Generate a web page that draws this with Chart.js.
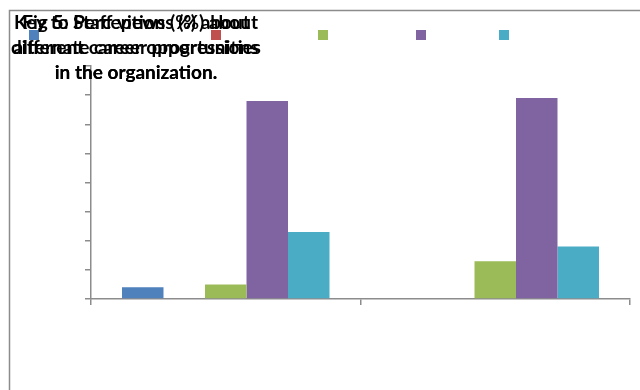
<!DOCTYPE html>
<html>
<head>
<meta charset="utf-8">
<script src="https://cdn.jsdelivr.net/npm/chart.js@4/dist/chart.umd.min.js"></script>
<style>
  html, body { margin: 0; padding: 0; background: #fff; }
  #wrap { width: 640px; height: 390px; }
</style>
</head>
<body>
<div id="wrap"><canvas id="chart" width="640" height="390"></canvas></div>
<script>
// respondent groups and answer shares (%)
const categories = ["Group 1", "Group 2"];
const seriesNames = ["Strongly disagree", "Disagree", "Neutral", "Agree", "Strongly agree"];
const stronglyDisagree = [4, 0];
const disagree = [0, 0];
const neutral = [5, 13];
const agree = [68, 69];
const stronglyAgree = [23, 18];
const seriesColors = ["#4F81BD", "#C0504D", "#9BBB59", "#8064A2", "#4BACC6"];

// two titles were laid over each other in the original sheet
const titleLayers = [
  ["Fig 5: Staff views (%) about", "different career opportunities", "in the organization."],
  ["Key to Perceptions (%) about", "alternate career progressions", "in the organization."],
];

const axisGray = "#8c8c8c";

const decorations = {
  id: "decorations",
  beforeDraw(chart) {
    const ctx = chart.ctx;
    ctx.save();
    ctx.strokeStyle = axisGray;
    ctx.lineWidth = 1.5;
    ctx.beginPath();
    ctx.moveTo(9.5, 390);
    ctx.lineTo(9.5, 10.5);
    ctx.lineTo(640, 10.5);
    ctx.stroke();
    ctx.restore();
  },
  afterDraw(chart) {
    const ctx = chart.ctx;
    ctx.save();
    // legend swatches, text left blank
    const boxX = [29, 211, 318, 416, 499];
    chart.data.datasets.forEach((ds, i) => {
      ctx.fillStyle = ds.backgroundColor;
      ctx.fillRect(boxX[i], 30, 10, 10);
    });
    ctx.fillStyle = "#000";
    ctx.font = "bold 19px Lato";
    ctx.textAlign = "center";
    ctx.textBaseline = "alphabetic";
    titleLayers.forEach(lines => {
      lines.forEach((line, j) => ctx.fillText(line, 136, 29 + j * 25));
    });
    ctx.restore();
  },
};

const datasets = [stronglyDisagree, disagree, neutral, agree, stronglyAgree].map((values, i) => ({
  label: seriesNames[i],
  data: values,
  backgroundColor: seriesColors[i],
  borderWidth: 0,
}));

new Chart(document.getElementById("chart"), {
  type: "bar",
  data: { labels: categories, datasets },
  plugins: [decorations],
  options: {
    responsive: false,
    animation: false,
    layout: { padding: { left: 85, right: 10, top: 66, bottom: 85 } },
    datasets: { bar: { categoryPercentage: 0.77, barPercentage: 1 } },
    plugins: {
      legend: { display: false },
      title: { display: false },
      tooltip: { enabled: false },
    },
    scales: {
      x: {
        offset: true,
        ticks: { display: false },
        grid: { offset: true, drawOnChartArea: false, drawTicks: true, tickLength: 6, color: axisGray, lineWidth: 1.5 },
        border: { color: axisGray, width: 1.5 },
      },
      y: {
        min: 0,
        max: 80,
        ticks: { display: false, stepSize: 10 },
        grid: { drawOnChartArea: false, drawTicks: true, tickLength: 6, color: axisGray, lineWidth: 1.5 },
        border: { color: axisGray, width: 1.5 },
      },
    },
  },
});
</script>
</body>
</html>
